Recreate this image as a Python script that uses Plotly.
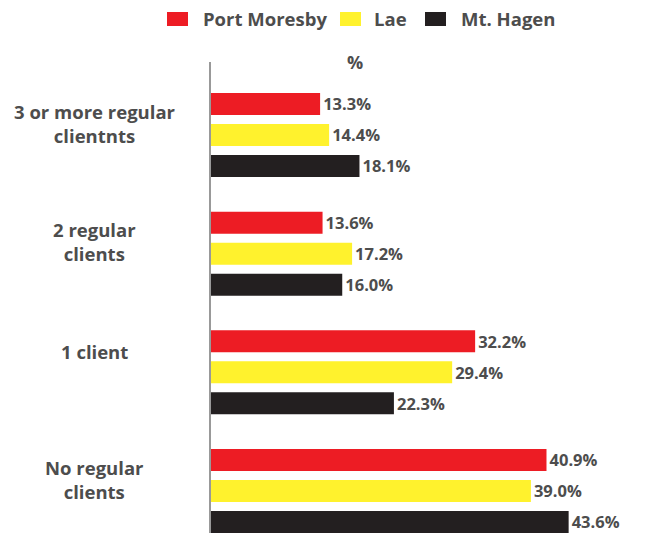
import plotly.graph_objects as go

categories = ["3 or more regular clientnts", "2 regular clients", "1 client", "No regular clients"]
category_labels = ["3 or more regular<br>clientnts", "2 regular<br>clients", "1 client", "No regular<br>clients"]
port_moresby = [13.3, 13.6, 32.2, 40.9]
lae = [14.4, 17.2, 29.4, 39.0]
mt_hagen = [18.1, 16.0, 22.3, 43.6]
series_names = ["Port Moresby", "Lae", "Mt. Hagen"]
colors = ["#ED1C24", "#FFF22D", "#231F20"]

FONT = "Open Sans"
GRAY = "#4D4D4D"

fig = go.Figure()
for name, vals, col in zip(series_names, [port_moresby, lae, mt_hagen], colors):
    fig.add_trace(go.Bar(
        y=categories, x=vals, name=name, orientation="h",
        marker=dict(color=col, line=dict(width=0)),
        text=[f"{v:.1f}%" for v in vals], textposition="outside",
        textfont=dict(family=FONT, size=18, color=GRAY, weight="bold"),
        cliponaxis=False, showlegend=False,
    ))

# category labels (centered multi-line)
label_shifts = [11, 12, 21, 11]
for cat, lab, ys in zip(categories, category_labels, label_shifts):
    fig.add_annotation(
        x=-0.2704, xref="paper", y=cat, yref="y", text=lab, showarrow=False,
        xanchor="center", yanchor="middle", align="center", yshift=ys,
        font=dict(family=FONT, size=18.5, color=GRAY, weight="bold"),
    )

fig.add_annotation(
    x=0.336, xref="paper", y=1.0, yref="paper", text="%", showarrow=False,
    xanchor="center", yanchor="middle",
    font=dict(family=FONT, size=18, color=GRAY, weight="bold"),
)

# manual legend
legend_boxes = [(-0.1026, -0.0536), (0.3007, 0.3497), (0.4988, 0.5478)]
legend_text_x = [-0.0233, 0.3753, 0.5781]
for name, col, (x0, x1), tx in zip(series_names, colors, legend_boxes, legend_text_x):
    fig.add_shape(type="rect", xref="paper", yref="paper",
                  x0=x0, x1=x1, y0=1.0764, y1=1.1062,
                  fillcolor=col, line=dict(width=0))
    fig.add_annotation(
        x=tx, xref="paper", y=1.0934, yref="paper", text=name, showarrow=False,
        xanchor="left", yanchor="middle",
        font=dict(family=FONT, size=18.5, color=GRAY, weight="bold"),
    )

fig.update_layout(
    width=658, height=533,
    margin=dict(l=211, r=18, t=62, b=0),
    plot_bgcolor="white", paper_bgcolor="white",
    barmode="group", bargap=0.216, bargroupgap=0.29,
    showlegend=False,
    xaxis=dict(range=[0, 52.3], showgrid=False, zeroline=False,
               showticklabels=False, showline=False, ticks=""),
    yaxis=dict(type="category", categoryorder="array", categoryarray=categories,
               range=[3.354, -0.615], showgrid=False, zeroline=False,
               showticklabels=False, showline=True, linecolor="#999999",
               linewidth=2, ticks=""),
)

fig.write_html("out.html", config={"displayModeBar": False},
               post_script="document.body.style.margin='0';document.body.style.overflow='hidden';")
